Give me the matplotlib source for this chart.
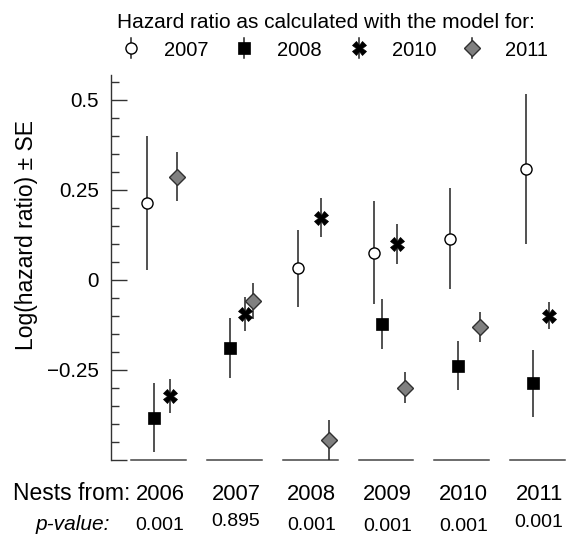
# Log(hazard ratio) por año de nidos, según el modelo de cada año
import numpy as np
import matplotlib
matplotlib.use('Agg')
import matplotlib.pyplot as plt
import matplotlib.transforms as mtransforms
from matplotlib.lines import Line2D

plt.rcParams['font.family'] = ['Liberation Sans', 'DejaVu Sans']

# %% Datos
nests_years = ['2006', '2007', '2008', '2009', '2010', '2011']
p_values = ['0.001', '0.895', '0.001', '0.001', '0.001', '0.001']

model_years = ['2007', '2008', '2010', '2011']
nan = np.nan
m2007 = [0.214, nan, 0.032, 0.075, 0.115, 0.308]
se2007 = [0.186, nan, 0.107, 0.143, 0.140, 0.208]
m2008 = [-0.382, -0.189, nan, -0.123, -0.238, -0.287]
se2008 = [0.095, 0.084, nan, 0.070, 0.068, 0.093]
m2010 = [-0.322, -0.094, 0.173, 0.099, nan, -0.099]
se2010 = [0.048, 0.047, 0.055, 0.055, nan, 0.038]
m2011 = [0.287, -0.058, -0.444, -0.299, -0.131, nan]
se2011 = [0.067, 0.050, 0.055, 0.043, 0.042, nan]

# %% Estilos
W, H = 569, 537
offsets = [-0.2, -0.1, 0.1, 0.2]
styles = [
    dict(marker='o', ms=8, mfc='white', mec='black', mew=1.0),
    dict(marker='s', ms=8.5, mfc='black', mec='black', mew=0.5),
    dict(marker='X', ms=9.5, mfc='black', mec='black', mew=0.5),
    dict(marker='D', ms=8.3, mfc='#808080', mec='#303030', mew=1.0),
]
means = [m2007, m2008, m2010, m2011]
ses = [se2007, se2008, se2010, se2011]
p_dy = [0, -4, 0, 1, 1, -3]   # pequeños desplazamientos de los p-values (px)

fig = plt.figure(figsize=(W / 100, H / 100), dpi=100)
ax = fig.add_axes([111 / W, 1 - 460 / H, (566 - 111) / W, (460 - 75) / H])

x = np.arange(len(nests_years))
for k in range(len(model_years)):
    ax.errorbar(x + offsets[k], means[k], yerr=ses[k], fmt='none',
                ecolor='#222222', elinewidth=1.1, capsize=0, zorder=2)
    ax.plot(x + offsets[k], means[k], ls='none', zorder=3, **styles[k])

ax.set_xlim(-0.673, 5.33)
ax.set_ylim(-0.5, 0.569)

# Eje x partido: un segmento bajo cada grupo
for i in x:
    ax.plot([i - 0.407, i + 0.318], [-0.5, -0.5], color='#444444', lw=1.1,
            clip_on=False, zorder=1)

for s in ['top', 'right', 'bottom']:
    ax.spines[s].set_visible(False)
ax.spines['left'].set_color('#333333')
ax.spines['left'].set_linewidth(1.0)

ax.set_xticks([])
ax.set_yticks([-0.5, -0.25, 0, 0.25, 0.5])
ax.set_yticklabels(['', '\u22120.25', '0', '0.25', '0.5'])
ax.set_yticks(np.arange(-0.5, 0.56, 0.05), minor=True)
ax.tick_params(axis='y', which='major', direction='in', length=11.5,
               width=1.0, color='#333333', pad=8.6, labelsize=14.9)
ax.tick_params(axis='y', which='minor', direction='in', length=5.6,
               width=1.0, color='#333333')

fig.text(26 / W, 1 - 235 / H, 'Log(hazard ratio) \u00b1 SE', rotation=90,
         ha='center', va='center', fontsize=16.5)

# %% Etiquetas inferiores
trans = mtransforms.blended_transform_factory(ax.transData, fig.transFigure)
for i, (yr, pv) in enumerate(zip(nests_years, p_values)):
    ax.text(i - 0.025, 1 - 500 / H, yr, transform=trans, ha='center',
            va='baseline', fontsize=15.8)
    ax.text(i - 0.025, 1 - (530 + p_dy[i]) / H, pv, transform=trans,
            ha='center', va='baseline', fontsize=14)
fig.text(130 / W, 1 - 500 / H, 'Nests from:', ha='right', va='baseline',
         fontsize=16.5)
fig.text(110 / W, 1 - 530 / H, 'p-value:', ha='right', va='baseline',
         fontsize=15, style='italic')

# %% Leyenda
fig.text(325.5 / W, 1 - 28 / H, 'Hazard ratio as calculated with the model for:',
         ha='center', va='baseline', fontsize=15)
leg_x = [130.7, 244, 359, 471.7]
for k in range(len(model_years)):
    px = leg_x[k] / W
    fig.add_artist(Line2D([px, px], [1 - 38 / H, 1 - 58 / H], color='#222222',
                          lw=1.1, transform=fig.transFigure))
    fig.add_artist(Line2D([px], [1 - 48 / H], ls='none',
                          transform=fig.transFigure, **styles[k]))
    fig.text((leg_x[k] + 33) / W, 1 - 56.5 / H, model_years[k], ha='left',
             va='baseline', fontsize=14.5)

fig.savefig('out.png', dpi=100)
